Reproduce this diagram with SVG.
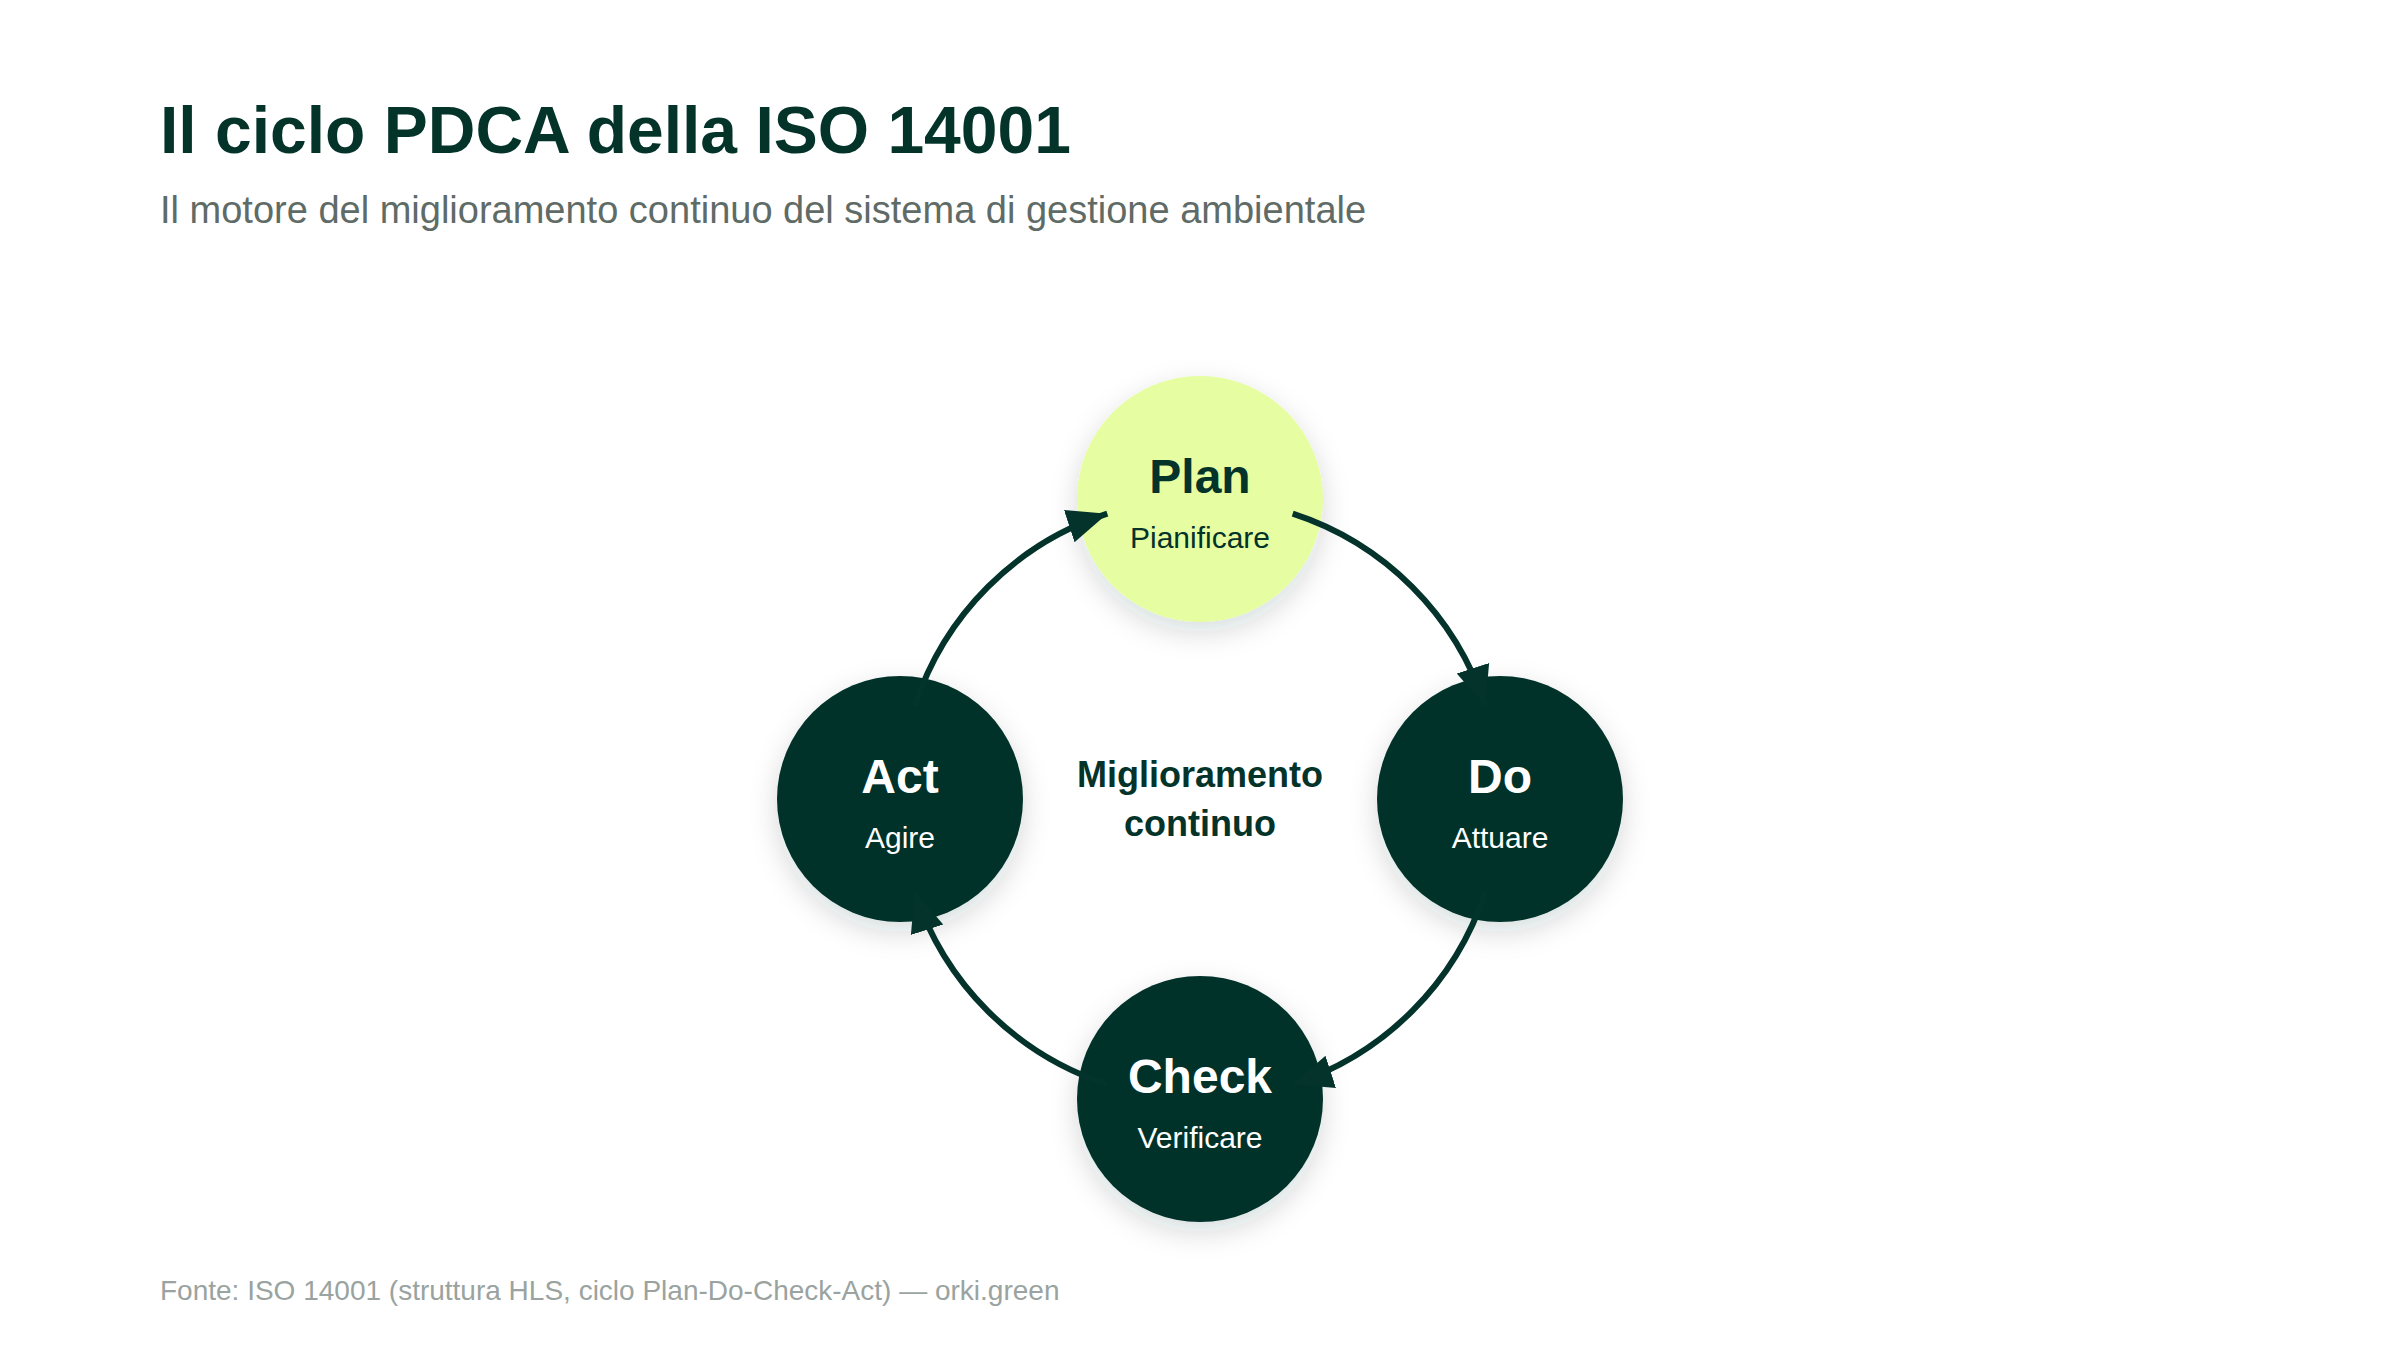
<svg xmlns="http://www.w3.org/2000/svg" width="2400" height="1350" viewBox="0 0 2400 1350">
<style>
.title{font-family:"Liberation Sans",Arial,sans-serif;font-weight:700;font-size:66px;fill:#04332a}
.subtitle{font-family:"Liberation Sans",Arial,sans-serif;font-size:38px;fill:#5f6b66}
.footer{font-family:"Liberation Sans",Arial,sans-serif;font-size:28px;fill:#9aa39f}
.nlabel{font-family:"Liberation Sans",Arial,sans-serif;font-weight:700;font-size:48px;text-anchor:middle}
.nsub{font-family:"Liberation Sans",Arial,sans-serif;font-size:30px;text-anchor:middle}
.center{font-family:"Liberation Sans",Arial,sans-serif;font-weight:700;font-size:36px;fill:#04332a;text-anchor:middle}
.dark{fill:#03332a}
.light{fill:#e6fda2}
.onDark{fill:#ffffff}
.onLight{fill:#04332a}
.conn{fill:none;stroke:#03332a;stroke-width:6}
</style>
<defs>
<filter id="shadow" x="-40%" y="-40%" width="180%" height="180%">
<feDropShadow dx="0" dy="10" stdDeviation="14" flood-color="#0b2a22" flood-opacity="0.16"/>
</filter>
<marker id="arrow" markerUnits="userSpaceOnUse" markerWidth="42" markerHeight="36" refX="40" refY="18" orient="auto">
<path d="M0,1 L40,18 L0,35 Z" fill="#03332a"/>
</marker>
</defs>
<rect width="2400" height="1350" fill="#ffffff"/>
<text class="title" x="160" y="153">Il ciclo PDCA della ISO 14001</text>
<text class="subtitle" x="160" y="223">Il motore del miglioramento continuo del sistema di gestione ambientale</text>

<g id="node-plan">
<circle cx="1200" cy="499" r="123" class="light" filter="url(#shadow)"/>
<text class="nlabel onLight" x="1200" y="493">Plan</text>
<text class="nsub onLight" x="1200" y="548">Pianificare</text>
</g>
<g id="node-do">
<circle cx="1500" cy="799" r="123" class="dark" filter="url(#shadow)"/>
<text class="nlabel onDark" x="1500" y="793">Do</text>
<text class="nsub onDark" x="1500" y="848">Attuare</text>
</g>
<g id="node-check">
<circle cx="1200" cy="1099" r="123" class="dark" filter="url(#shadow)"/>
<text class="nlabel onDark" x="1200" y="1093">Check</text>
<text class="nsub onDark" x="1200" y="1148">Verificare</text>
</g>
<g id="node-act">
<circle cx="900" cy="799" r="123" class="dark" filter="url(#shadow)"/>
<text class="nlabel onDark" x="900" y="793">Act</text>
<text class="nsub onDark" x="900" y="848">Agire</text>
</g>
<g id="center-label">
<text class="center" x="1200" y="787">Miglioramento</text>
<text class="center" x="1200" y="836">continuo</text>
</g>

<g id="connectors">
<path class="conn" marker-end="url(#arrow)" d="M1292.7,513.7 A300,300 0 0 1 1485.3,706.3"/>
<path class="conn" marker-end="url(#arrow)" d="M1485.3,891.7 A300,300 0 0 1 1292.7,1084.3"/>
<path class="conn" marker-end="url(#arrow)" d="M1107.3,1084.3 A300,300 0 0 1 914.7,891.7"/>
<path class="conn" marker-end="url(#arrow)" d="M914.7,706.3 A300,300 0 0 1 1107.3,513.7"/>
</g>

<text class="footer" x="160" y="1300">Fonte: ISO 14001 (struttura HLS, ciclo Plan-Do-Check-Act) — orki.green</text>
</svg>
